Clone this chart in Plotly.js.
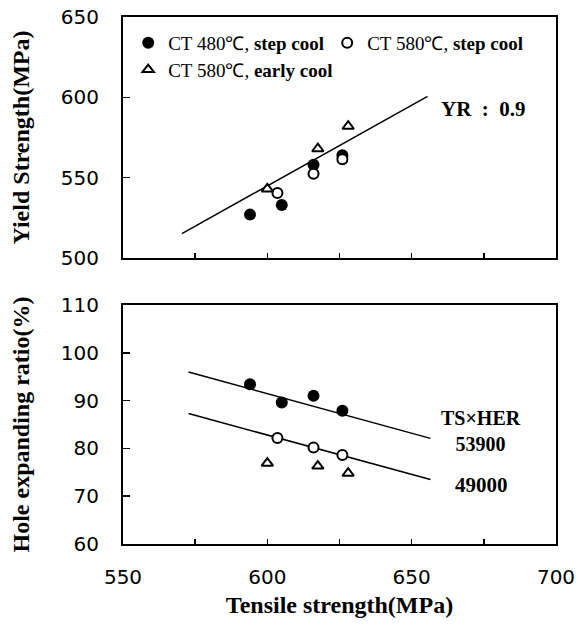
<!DOCTYPE html>
<html><head><meta charset="utf-8">
<script src="https://cdn.plot.ly/plotly-3.0.1.min.js"></script>
<style>html,body{margin:0;padding:0;background:#fff}</style>
</head><body><div id="chart" style="width:584px;height:626px"></div>
<script>
// Series: CT 480 ℃, step cool (filled circles)
const ts480Step = [594, 605, 616, 626];
const ys480Step = [527, 533, 558, 564];
const her480Step = [93.4, 89.6, 91.0, 87.9];
// Series: CT 580 ℃, step cool (open circles)
const ts580Step = [603.5, 616, 626];
const ys580Step = [540.5, 552.5, 561.5];
const her580Step = [82.2, 80.2, 78.6];
// Series: CT 580 ℃, early cool (open triangles)
const ts580Early = [600, 617.5, 628];
const ys580Early = [543, 568, 582];
const her580Early = [76.9, 76.3, 74.8];
// Reference lines
const yrLineTS = [570.4, 655.5];
const yrLineYS = [515.2, 600.6];
const herLineTS = [572.7, 656.5];
const herLine53900 = [96.0, 82.1];
const herLine49000 = [87.3, 73.5];
// Labels
const seriesNames = ['CT 480℃, <b>step cool</b>', 'CT 580℃, <b>step cool</b>', 'CT 580℃, <b>early cool</b>'];
const xTickVals = [550, 575, 600, 625, 650, 675, 700];
const xTickText = ['550', '', '600', '', '650', '', '700'];
const yTopTicks = [500, 550, 600, 650];
const yBotTicks = [60, 70, 80, 90, 100, 110];

const filledMarker = {symbol: 'circle', size: 12, color: '#000', line: {width: 0}};
const openCircle = {symbol: 'circle', size: 10, color: '#fff', line: {width: 2, color: '#000'}};
const openTri = {symbol: 'triangle-up', size: 10, color: '#fff', line: {width: 2, color: '#000'}};
const lineStyle = {color: '#000', width: 1.5};

const traces = [
  {x: yrLineTS, y: yrLineYS, xaxis: 'x2', yaxis: 'y2', mode: 'lines', line: lineStyle, showlegend: false, hoverinfo: 'skip'},
  {x: herLineTS, y: herLine53900, mode: 'lines', line: lineStyle, showlegend: false, hoverinfo: 'skip'},
  {x: herLineTS, y: herLine49000, mode: 'lines', line: lineStyle, showlegend: false, hoverinfo: 'skip'},
  {x: ts480Step, y: ys480Step, xaxis: 'x2', yaxis: 'y2', mode: 'markers', marker: filledMarker, name: seriesNames[0], legendgroup: 'a', legend: 'legend'},
  {x: ts580Step, y: ys580Step, xaxis: 'x2', yaxis: 'y2', mode: 'markers', marker: openCircle, name: seriesNames[1], legendgroup: 'b', legend: 'legend'},
  {x: ts580Early, y: ys580Early, xaxis: 'x2', yaxis: 'y2', mode: 'markers', marker: openTri, name: seriesNames[2], legendgroup: 'c', legend: 'legend2'},
  {x: ts480Step, y: her480Step, mode: 'markers', marker: filledMarker, name: seriesNames[0], legendgroup: 'a', showlegend: false},
  {x: ts580Step, y: her580Step, mode: 'markers', marker: openCircle, name: seriesNames[1], legendgroup: 'b', showlegend: false},
  {x: ts580Early, y: her580Early, mode: 'markers', marker: openTri, name: seriesNames[2], legendgroup: 'c', showlegend: false}
];

const tickFont = {family: 'DejaVu Sans', size: 20, color: '#000'};
const titleFont = {family: 'Liberation Serif', size: 24, color: '#000'};
const axisCommon = {showline: true, linewidth: 2, linecolor: '#000', mirror: true, showgrid: false, zeroline: false,
  ticks: 'inside', tickwidth: 1.5, tickcolor: '#000', tickfont: tickFont};
const legendFont = {family: 'Liberation Serif', size: 19, color: '#000'};

const annFont = {family: 'Liberation Serif', size: 21, color: '#000'};
const layout = {
  width: 584, height: 626,
  margin: {l: 123, r: 28, t: 17, b: 82},
  paper_bgcolor: '#fff', plot_bgcolor: '#fff',
  showlegend: true,
  legend: {orientation: 'h', x: 0.012, xanchor: 'left', y: 0.987, yanchor: 'top', entrywidth: 154,
    font: legendFont, bgcolor: 'rgba(0,0,0,0)', borderwidth: 0},
  legend2: {orientation: 'h', x: 0.012, xanchor: 'left', y: 0.936, yanchor: 'top',
    font: legendFont, bgcolor: 'rgba(0,0,0,0)', borderwidth: 0},
  xaxis: Object.assign({}, axisCommon, {domain: [0, 1], anchor: 'y', range: [550, 700], tickvals: xTickVals, ticktext: xTickText,
    ticklen: 5, ticklabelstandoff: 14,
    title: {text: '<b>Tensile strength(MPa)</b>', font: titleFont, standoff: 8}}),
  yaxis: Object.assign({}, axisCommon, {domain: [0, 0.4535], anchor: 'x', range: [60, 110], tickvals: yBotTicks,
    ticklen: 7, ticklabelstandoff: 18,
    title: {text: '<b>Hole expanding ratio(%)</b>', font: titleFont, standoff: 24}}),
  xaxis2: Object.assign({}, axisCommon, {domain: [0, 1], anchor: 'y2', range: [550, 700], tickvals: xTickVals,
    showticklabels: false, ticklen: 5}),
  yaxis2: Object.assign({}, axisCommon, {domain: [0.5427, 1], anchor: 'x2', range: [500, 650], tickvals: yTopTicks,
    ticklen: 7, ticklabelstandoff: 18,
    title: {text: '<b>Yield Strength(MPa)</b>', font: titleFont, standoff: 24}}),
  annotations: [
    {text: '<b>YR  :  0.9</b>', xref: 'paper', yref: 'paper', x: 0.8326, y: 0.8254, xanchor: 'center', yanchor: 'middle', showarrow: false, font: annFont},
    {text: '<b>TS×HER</b><br><b>53900</b>', xref: 'paper', yref: 'paper', x: 0.8275, y: 0.214, xanchor: 'center', yanchor: 'middle', showarrow: false, font: {family: 'Liberation Serif', size: 20, color: '#000'}},
    {text: '<b>49000</b>', xref: 'paper', yref: 'paper', x: 0.829, y: 0.112, xanchor: 'center', yanchor: 'middle', showarrow: false, font: annFont}
  ]
};

Plotly.newPlot('chart', traces, layout, {displayModeBar: false, staticPlot: true});
</script>
</body></html>
